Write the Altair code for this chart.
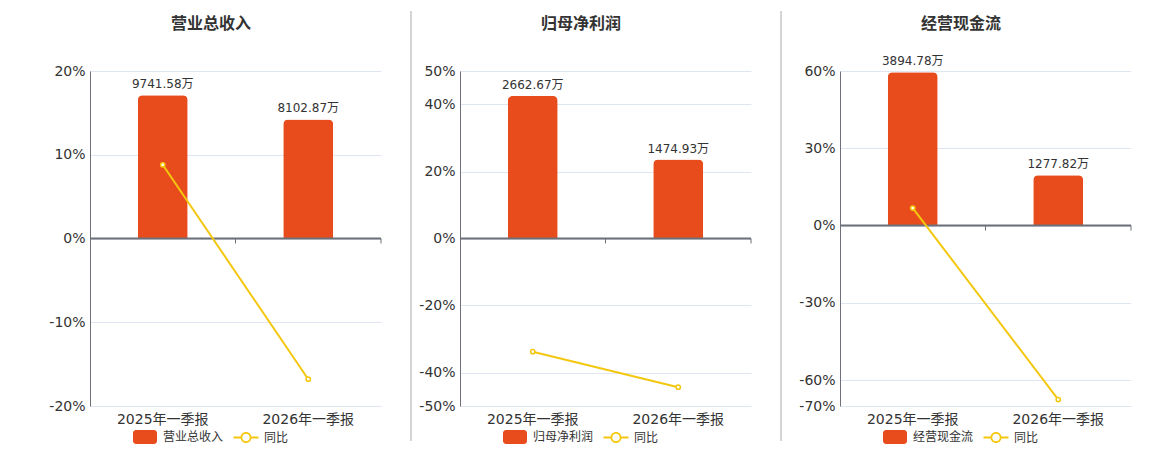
import altair as alt
import pandas as pd

categories = ["2025年一季报", "2026年一季报"]
titles = ["营业总收入", "归母净利润", "经营现金流"]
amounts = [[9741.58, 8102.87], [2662.67, 1474.93], [3894.78, 1277.82]]
yoy = [[8.8, -16.8], [-33.8, -44.4], [6.8, -67.5]]
yoy_name = "同比"
pct_domains = [[-20, 20], [-50, 50], [-70, 60]]
pct_ticks = [[-20, -10, 0, 10, 20], [-50, -40, -20, 0, 20, 40, 50], [-70, -60, -30, 0, 30, 60]]
amount_domains = [[-11400, 11400], [-3128, 3128], [-4579, 3925]]

RED = "#E84C1D"
YEL = "#F4C70F"
AXIS = "#6E7079"
GRID = "#E0E6F1"
TXT = "#333333"
FONT = "DejaVu Sans, Noto Sans CJK SC"

RECT_PATH = ("M-1.286,-1 H1.286 A0.43,0.43 0 0 1 1.714,-0.571 V0.571 "
             "A0.43,0.43 0 0 1 1.286,1 H-1.286 A0.43,0.43 0 0 1 -1.714,0.571 "
             "V-0.571 A0.43,0.43 0 0 1 -1.286,-1 Z")
RING_PATH = ("M-1.786,-0.143 H-0.75 V0.143 H-1.786 Z "
             "M0.75,-0.143 H1.786 V0.143 H0.75 Z "
             "M0.786,0 A0.786,0.786 0 1 1 -0.786,0 A0.786,0.786 0 1 1 0.786,0 Z "
             "M0.54,0 A0.54,0.54 0 1 0 -0.54,0 A0.54,0.54 0 1 0 0.54,0 Z")

PW, H = 291, 335
WIDTHS = [291, 301, 291]


def xenc(bp=None):
    kw = {}
    if bp is not None:
        kw["bandPosition"] = bp
    return alt.X(
        "period:N", sort=categories,
        scale=alt.Scale(paddingInner=0, paddingOuter=0, range=[0, PW]),
        axis=alt.Axis(title=None, labelAngle=0, domain=False, ticks=False, tickSize=0,
                      grid=False, labelFontSize=14, labelColor=TXT, labelFont=FONT,
                      labelPadding=6),
        **kw)


def panel(i, sep_x=None):
    df = pd.DataFrame({
        "period": categories,
        "amount": amounts[i],
        "yoy": yoy[i],
        "label": [f"{v:.2f}万" for v in amounts[i]],
    })
    base = alt.Chart(df)
    ybar = alt.Y("amount:Q", scale=alt.Scale(domain=amount_domains[i], nice=False, zero=False), axis=None)
    bars = base.mark_bar(color=RED, size=50, cornerRadiusTopLeft=5, cornerRadiusTopRight=5).encode(
        x=xenc(), y=ybar)
    labels = base.mark_text(dy=-4, baseline="bottom", fontSize=12, color=TXT, font=FONT).encode(
        x=xenc(), y=ybar, text="label:N")
    bar_layer = alt.layer(bars, labels)

    yline = alt.Y("yoy:Q", scale=alt.Scale(domain=pct_domains[i], nice=False, zero=False),
                  axis=alt.Axis(orient="left", values=pct_ticks[i], labelExpr="datum.value + '%'",
                                title=None, grid=True, gridColor=GRID, gridWidth=1,
                                domainColor=AXIS, domainWidth=1, ticks=False, tickSize=0,
                                labelFontSize=14, labelColor=TXT, labelFont=FONT,
                                labelPadding=5))
    one = alt.Chart(pd.DataFrame({"z": [0]}))
    zero = one.mark_rule(color=AXIS, strokeWidth=2).encode(
        y=alt.datum(0), x=alt.value(0), x2=alt.value(PW))
    tks = base.mark_rule(color=AXIS, strokeWidth=1, y2Offset=5).encode(
        x=xenc(1), y=alt.datum(0), y2=alt.datum(0))
    line = base.mark_line(color=YEL, strokeWidth=2).encode(x=xenc(), y=yline)
    pts = base.mark_point(filled=True, fill="white", stroke=YEL, strokeWidth=1.5, size=18,
                          opacity=1).encode(x=xenc(), y=yline)
    pct_layer = alt.layer(zero, tks, line, pts)

    series = [titles[i], yoy_name]
    leg = alt.Legend(title=None, orient="none", direction="horizontal", legendX=48, legendY=359,
                     symbolSize=196, symbolStrokeWidth=0, symbolOpacity=1, labelFontSize=12,
                     labelColor=TXT, labelFont=FONT, labelOffset=11, columnPadding=9, padding=0)
    legend_layer = alt.Chart(pd.DataFrame({"series": series})).transform_filter(
        "datum.series == null").mark_point(filled=True).encode(
        color=alt.Color("series:N", sort=series, scale=alt.Scale(domain=series, range=[RED, YEL]), legend=leg),
        shape=alt.Shape("series:N", sort=series, scale=alt.Scale(domain=series, range=[RECT_PATH, RING_PATH]), legend=leg),
    )
    title = alt.Chart(pd.DataFrame({"t": [titles[i]]})).mark_text(
        fontSize=16, fontWeight="bold", color=TXT, font=FONT, align="center", baseline="middle").encode(
        x=alt.value(PW / 2 - 24.5), y=alt.value(-47.5), text="t:N")
    layers = [bar_layer, pct_layer, legend_layer, title]
    if sep_x is not None:
        sep = one.mark_rule(color="#AAAAAA", strokeWidth=1).encode(
            x=alt.value(sep_x), y=alt.value(-60), y2=alt.value(370))
        layers.append(sep)
    w = WIDTHS[i]
    return alt.layer(*layers).resolve_scale(y="independent").properties(width=w, height=H)


p1 = panel(0)
p2 = panel(1, -49)
p3 = panel(2, -59)

chart = alt.hconcat(p1, p2, p3, spacing=79, bounds="flush").resolve_scale(
    color="independent", shape="independent").properties(
    padding={"left": 40, "top": 2, "right": 5, "bottom": 0}
).configure_view(stroke=None)

chart.save("out.html", embed_options={"renderer": "svg", "actions": False})
